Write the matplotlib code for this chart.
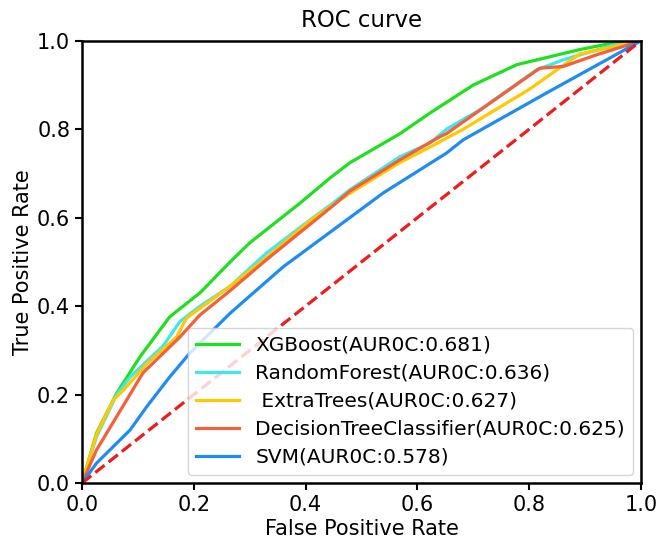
import matplotlib
matplotlib.use("Agg")
import matplotlib.pyplot as plt

# ROC curve points
xgb_fpr = [0, 0.026, 0.062, 0.104, 0.157, 0.211, 0.265, 0.30, 0.39, 0.444, 0.479, 0.569, 0.623, 0.70, 0.778, 0.89, 0.95, 1.0]
xgb_tpr = [0, 0.113, 0.203, 0.286, 0.376, 0.43, 0.50, 0.543, 0.633, 0.69, 0.724, 0.79, 0.837, 0.90, 0.946, 0.98, 0.995, 1.0]

rf_fpr = [0, 0.026, 0.062, 0.086, 0.145, 0.175, 0.211, 0.265, 0.33, 0.408, 0.449, 0.479, 0.569, 0.623, 0.652, 0.712, 0.813, 0.861, 0.95, 1.0]
rf_tpr = [0, 0.105, 0.20, 0.24, 0.31, 0.365, 0.40, 0.445, 0.52, 0.595, 0.633, 0.663, 0.738, 0.769, 0.80, 0.844, 0.934, 0.957, 0.99, 1.0]

et_fpr = [0, 0.026, 0.056, 0.074, 0.116, 0.169, 0.187, 0.265, 0.33, 0.41, 0.479, 0.569, 0.623, 0.682, 0.80, 0.89, 1.0]
et_tpr = [0, 0.11, 0.188, 0.21, 0.27, 0.33, 0.373, 0.445, 0.51, 0.595, 0.655, 0.725, 0.76, 0.80, 0.89, 0.97, 1.0]

dt_fpr = [0, 0.026, 0.08, 0.109, 0.175, 0.211, 0.265, 0.33, 0.449, 0.479, 0.569, 0.64, 0.652, 0.819, 0.861, 0.92, 1.0]
dt_tpr = [0, 0.075, 0.188, 0.249, 0.33, 0.38, 0.435, 0.505, 0.627, 0.66, 0.731, 0.783, 0.79, 0.938, 0.942, 0.968, 1.0]

svm_fpr = [0, 0.026, 0.086, 0.116, 0.157, 0.193, 0.265, 0.36, 0.449, 0.539, 0.652, 0.682, 0.831, 0.95, 1.0]
svm_tpr = [0, 0.045, 0.12, 0.173, 0.24, 0.294, 0.384, 0.489, 0.572, 0.656, 0.746, 0.776, 0.882, 0.965, 1.0]

labels = ["XGBoost(AUR0C:0.681)", "RandomForest(AUR0C:0.636)", " ExtraTrees(AUR0C:0.627)",
          "DecisionTreeClassifier(AUR0C:0.625)", "SVM(AUR0C:0.578)"]
colors = ["#1ee01e", "#3ee8ee", "#ffc800", "#f2603c", "#1e8cf0"]

fig = plt.figure(figsize=(6.56, 5.44), dpi=100)
ax = fig.add_axes([0.125, 0.112, 0.852, 0.813])

curves = [(xgb_fpr, xgb_tpr), (rf_fpr, rf_tpr), (et_fpr, et_tpr), (dt_fpr, dt_tpr), (svm_fpr, svm_tpr)]
for (fx, ty), lab, c in zip(curves, labels, colors):
    ax.plot(fx, ty, color=c, lw=2.3, label=lab)

ax.plot([0, 1], [0, 1], color="#ee1c1c", lw=2.3, ls="--")

ax.set_xlim(0, 1)
ax.set_ylim(0, 1)
ax.set_xticks([0, 0.2, 0.4, 0.6, 0.8, 1.0])
ax.set_yticks([0, 0.2, 0.4, 0.6, 0.8, 1.0])
ax.tick_params(labelsize=15, width=1.5, length=5)
for s in ax.spines.values():
    s.set_linewidth(1.8)
ax.set_xlabel("False Positive Rate", fontsize=15, labelpad=3)
ax.set_ylabel("True Positive Rate", fontsize=15, labelpad=3)
ax.set_title("ROC curve", fontsize=16.5, pad=10)
ax.legend(loc="lower right", fontsize=14.5, handlelength=2.15, labelspacing=0.45,
          borderaxespad=0.4)

fig.savefig("out.png", dpi=100)
